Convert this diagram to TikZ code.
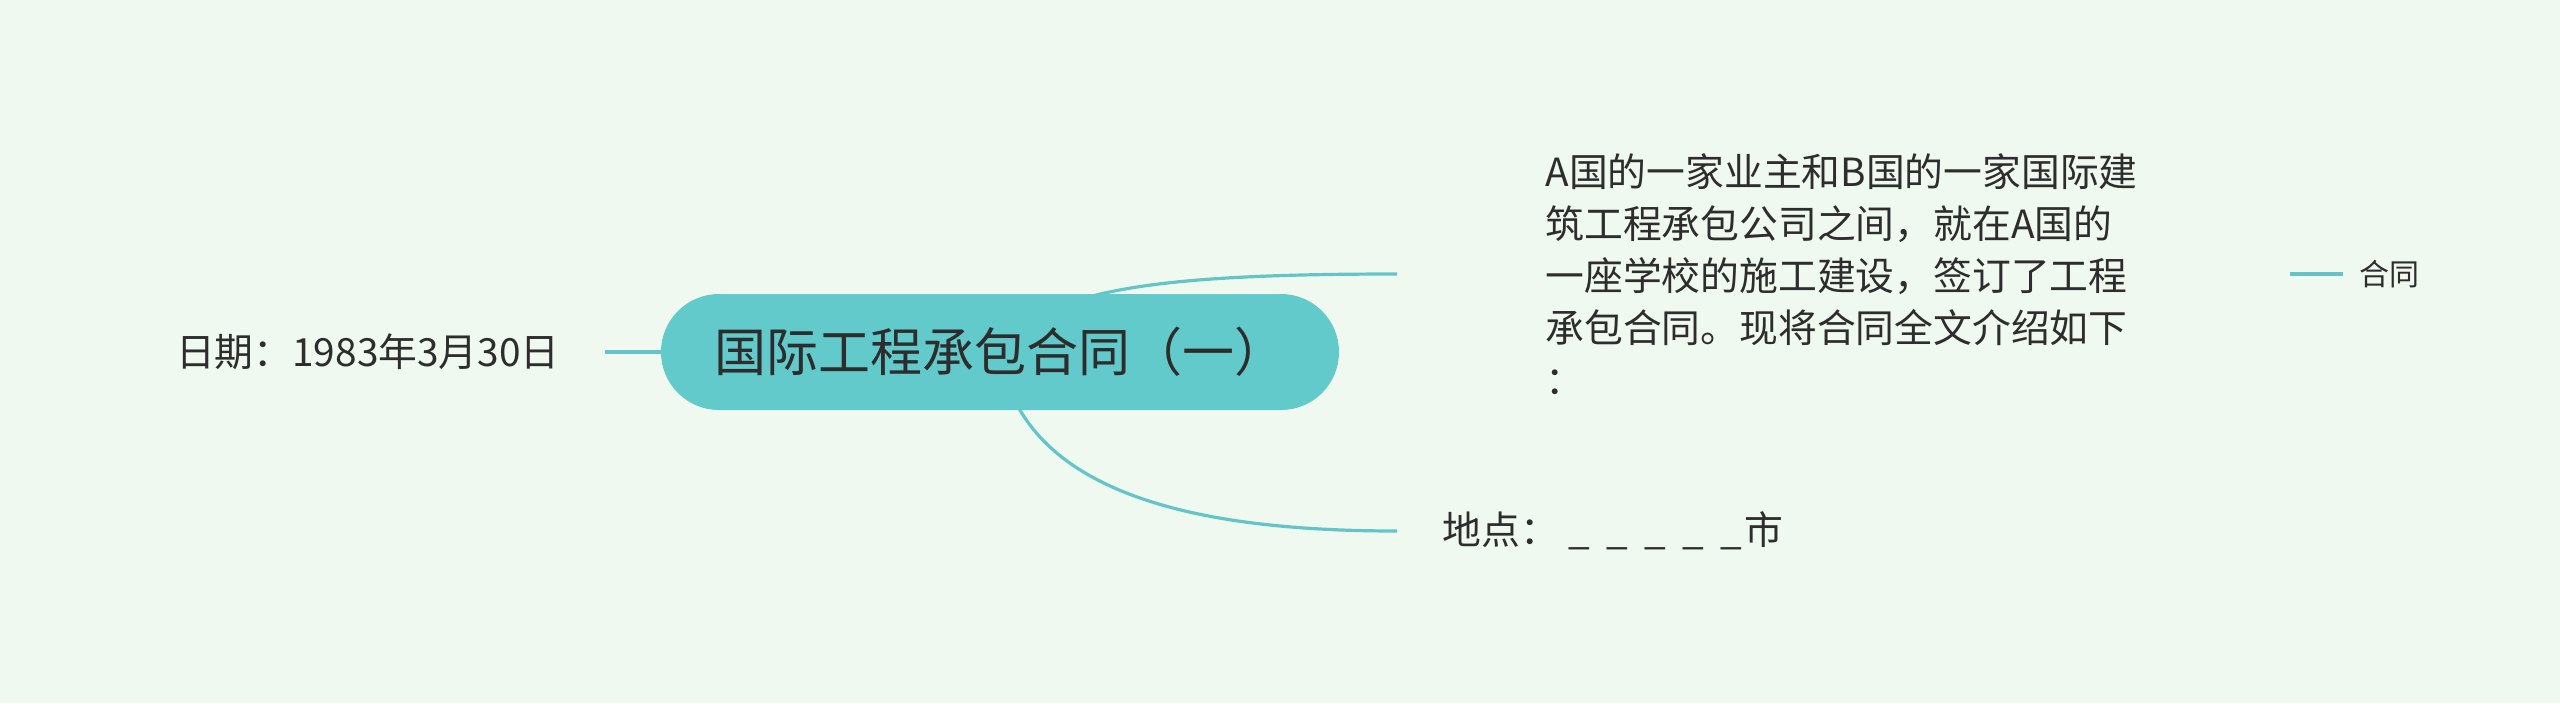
\documentclass[tikz,border=0pt]{standalone}
\usepackage{fontspec}
\newfontfamily\cjk{Noto Sans CJK SC}
\usetikzlibrary{positioning}

\definecolor{bgmint}{HTML}{F0F9EF}
\definecolor{rootfill}{HTML}{62CACB}
\definecolor{linkteal}{HTML}{63C5CA}
\definecolor{inkgray}{HTML}{2D2D2D}

\pgfdeclarelayer{back}
\pgfsetlayers{back,main}

\tikzset{
  root/.style={fill=rootfill, rounded corners=29pt, minimum width=339pt, minimum height=58pt,
               text=inkgray, font=\cjk\fontsize{26pt}{32pt}\selectfont},
  branch/.style={text=inkgray, inner xsep=22.5pt, font=\cjk\fontsize{19.4pt}{26pt}\selectfont},
  leaf/.style={text=inkgray, inner xsep=8pt, font=\cjk\fontsize{15pt}{18pt}\selectfont},
  link/.style={draw=linkteal, line width=1.6pt}
}

\begin{document}
\begin{tikzpicture}[x=0.5pt,y=-0.5pt]

   % Canvas
      \begin{pgfonlayer}{back}
         \fill[bgmint] (0,0) rectangle (2560,703);
      \end{pgfonlayer}
      \useasboundingbox (0,0) rectangle (2560,703);

   % Nodes
      \node[root]                      (root)   at (1000,352) {国际工程承包合同（一）};
      \node[branch,anchor=east]        (date)   at (605,352)  {日期：1983年3月30日};
      \node[branch,anchor=west,align=left,text width=298pt,inner xsep=74pt] (desc) at (1397,274)
           {A国的一家业主和B国的一家国际建\\筑工程承包公司之间，就在A国的\\一座学校的施工建设，签订了工程\\承包合同。现将合同全文介绍如下\\：};
      \node[branch,anchor=west]        (place)  at (1397,531)
           {地点：\hspace{.25em}\_\hspace{.42em}\_\hspace{.42em}\_\hspace{.42em}\_\hspace{.42em}\_\hspace{.05em}市};
      \node[leaf,right=26.5pt of desc] (hetong) {合同};

   % Paths
      \begin{pgfonlayer}{back}
         \path (date) edge[link] (root);
         \draw[link] (root.center) .. controls +(40,-62) and +(-247,0) .. (desc.west);
         \draw[link] (root.center) .. controls +(22,150) and +(-180,0) .. (place.west);
         \path (desc) edge[link] (hetong);
      \end{pgfonlayer}
\end{tikzpicture}
\end{document}
